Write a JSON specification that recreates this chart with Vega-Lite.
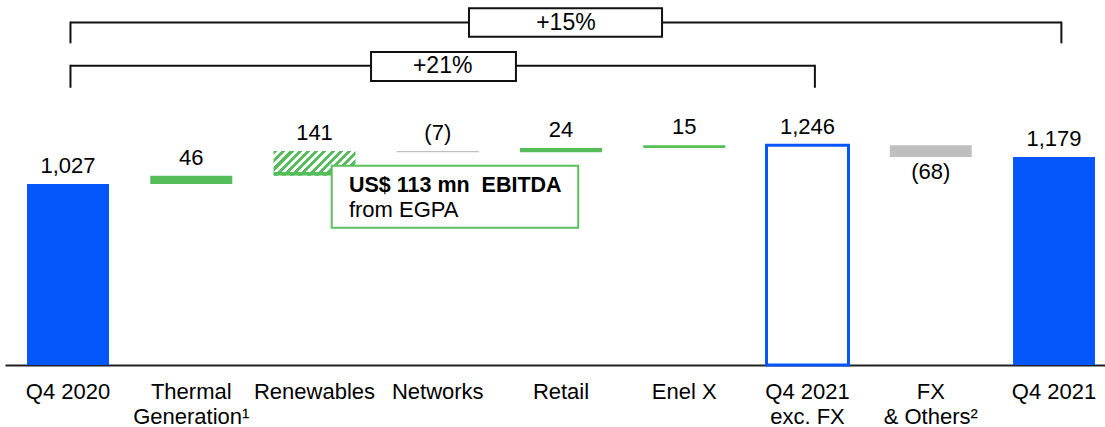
{
  "$schema": "https://vega.github.io/schema/vega-lite/v6.json",
  "width": 1100,
  "height": 365,
  "autosize": {"type": "none"},
  "padding": {"left": 5, "right": 0, "top": 0, "bottom": 62},
  "background": "white",
  "config": {
    "view": {"stroke": null},
    "font": "Liberation Sans",
    "text": {"font": "Liberation Sans", "color": "#000000"}
  },
  "datasets": {
    "bars": [
      {"cat": "Q4 2020", "y0": 0, "y1": 1027, "hi": 1027, "lo": 0, "label": "1,027", "type": "total"},
      {"cat": "Thermal|Generation¹", "y0": 1027, "y1": 1073, "hi": 1073, "lo": 1027, "label": "46", "type": "up"},
      {"cat": "Renewables", "y0": 1073, "y1": 1214, "hi": 1214, "lo": 1073, "label": "141", "type": "hatch"},
      {"cat": "Networks", "y0": 1214, "y1": 1207, "hi": 1214, "lo": 1207, "label": "(7)", "type": "down"},
      {"cat": "Retail", "y0": 1207, "y1": 1231, "hi": 1231, "lo": 1207, "label": "24", "type": "up"},
      {"cat": "Enel X", "y0": 1231, "y1": 1246, "hi": 1246, "lo": 1231, "label": "15", "type": "up"},
      {"cat": "Q4 2021|exc. FX", "y0": 0, "y1": 1246, "hi": 1246, "lo": 0, "label": "1,246", "type": "outline"},
      {"cat": "FX|& Others²", "y0": 1246, "y1": 1179, "hi": 1246, "lo": 1179, "label": "(68)", "type": "down"},
      {"cat": "Q4 2021", "y0": 0, "y1": 1179, "hi": 1179, "lo": 0, "label": "1,179", "type": "total"}
    ],
    "hlines": [
      {"from": "Q4 2020", "to": "Q4 2021", "v": 1942},
      {"from": "Q4 2020", "to": "Q4 2021|exc. FX", "v": 1697}
    ],
    "vleft": [
      {"cat": "Q4 2020", "a": 1942, "b": 1830},
      {"cat": "Q4 2020", "a": 1697, "b": 1578}
    ],
    "vright": [
      {"cat": "Q4 2021", "a": 1942, "b": 1830},
      {"cat": "Q4 2021|exc. FX", "a": 1697, "b": 1578}
    ],
    "box15": [{"from": "Networks", "to": "Enel X", "a": 2023, "b": 1862}],
    "box21": [{"cat": "Networks", "a": 1775, "b": 1611}],
    "growth": [
      {"cat": "Retail", "v": 1942, "text": "+15%"},
      {"cat": "Networks", "v": 1695, "text": "+21%"}
    ],
    "callout": [{"from": "Renewables", "to": "Retail", "a": 1130, "b": 779}],
    "calloutBold": [{"cat": "Renewables", "v": 1017, "text": "US$ 113 mn\u00a0 EBITDA"}],
    "calloutNormal": [{"cat": "Renewables", "v": 879, "text": "from EGPA"}]
  },
  "data": {"name": "bars"},
  "encoding": {
    "x": {
      "field": "cat",
      "type": "nominal",
      "sort": null,
      "scale": {
        "type": "band",
        "domain": ["Q4 2020", "Thermal|Generation¹", "Renewables", "Networks", "Retail", "Enel X", "Q4 2021|exc. FX", "FX|& Others²", "Q4 2021"],
        "paddingInner": 0.335,
        "paddingOuter": 0.13,
        "align": 0.6875
      },
      "axis": {
        "title": null,
        "labelExpr": "split(datum.label, '|')",
        "labelAngle": 0,
        "labelAlign": "center",
        "labelBaseline": "top",
        "labelFont": "Liberation Sans",
        "labelFontSize": 22,
        "labelColor": "#000000",
        "labelLineHeight": 25,
        "labelPadding": 16,
        "labelLimit": 0,
        "ticks": false,
        "tickSize": 0,
        "domainColor": "#222222",
        "domainWidth": 2,
        "grid": false
      }
    }
  },
  "layer": [
    {
      "transform": [{"filter": "datum.type == 'total' || datum.type == 'up' || datum.type == 'down'"}],
      "mark": {"type": "bar"},
      "encoding": {
        "y": {"field": "y0", "type": "quantitative", "scale": {"domain": [0, 2070], "nice": false, "zero": true}, "axis": null},
        "y2": {"field": "y1"},
        "color": {"field": "type", "type": "nominal", "scale": {"domain": ["total", "up", "down"], "range": ["#0556FA", "#55BD5A", "#BFBFBF"]}, "legend": null}
      }
    },
    {
      "transform": [{"filter": "datum.type == 'outline'"}],
      "mark": {"type": "bar", "fill": "#FFFFFF", "stroke": "#0556FA", "strokeWidth": 3},
      "encoding": {
        "y": {"field": "y0", "type": "quantitative"},
        "y2": {"field": "y1"}
      }
    },
    {
      "transform": [{"filter": "datum.type == 'hatch'"}],
      "mark": {
        "type": "bar",
        "fill": {
          "gradient": "linear",
          "x1": 0, "y1": 0, "x2": 1.194, "y2": 0.3625,
          "stops": [
            {"offset": 0, "color": "#55BD5A"}, {"offset": 0.0385, "color": "#55BD5A"}, {"offset": 0.0385, "color": "#FFFFFF"}, {"offset": 0.0769, "color": "#FFFFFF"},
            {"offset": 0.0769, "color": "#55BD5A"}, {"offset": 0.1154, "color": "#55BD5A"}, {"offset": 0.1154, "color": "#FFFFFF"}, {"offset": 0.1538, "color": "#FFFFFF"},
            {"offset": 0.1538, "color": "#55BD5A"}, {"offset": 0.1923, "color": "#55BD5A"}, {"offset": 0.1923, "color": "#FFFFFF"}, {"offset": 0.2308, "color": "#FFFFFF"},
            {"offset": 0.2308, "color": "#55BD5A"}, {"offset": 0.2692, "color": "#55BD5A"}, {"offset": 0.2692, "color": "#FFFFFF"}, {"offset": 0.3077, "color": "#FFFFFF"},
            {"offset": 0.3077, "color": "#55BD5A"}, {"offset": 0.3462, "color": "#55BD5A"}, {"offset": 0.3462, "color": "#FFFFFF"}, {"offset": 0.3846, "color": "#FFFFFF"},
            {"offset": 0.3846, "color": "#55BD5A"}, {"offset": 0.4231, "color": "#55BD5A"}, {"offset": 0.4231, "color": "#FFFFFF"}, {"offset": 0.4615, "color": "#FFFFFF"},
            {"offset": 0.4615, "color": "#55BD5A"}, {"offset": 0.5, "color": "#55BD5A"}, {"offset": 0.5, "color": "#FFFFFF"}, {"offset": 0.5385, "color": "#FFFFFF"},
            {"offset": 0.5385, "color": "#55BD5A"}, {"offset": 0.5769, "color": "#55BD5A"}, {"offset": 0.5769, "color": "#FFFFFF"}, {"offset": 0.6154, "color": "#FFFFFF"},
            {"offset": 0.6154, "color": "#55BD5A"}, {"offset": 0.6538, "color": "#55BD5A"}, {"offset": 0.6538, "color": "#FFFFFF"}, {"offset": 0.6923, "color": "#FFFFFF"},
            {"offset": 0.6923, "color": "#55BD5A"}, {"offset": 0.7308, "color": "#55BD5A"}, {"offset": 0.7308, "color": "#FFFFFF"}, {"offset": 0.7692, "color": "#FFFFFF"},
            {"offset": 0.7692, "color": "#55BD5A"}, {"offset": 0.8077, "color": "#55BD5A"}, {"offset": 0.8077, "color": "#FFFFFF"}, {"offset": 0.8462, "color": "#FFFFFF"},
            {"offset": 0.8462, "color": "#55BD5A"}, {"offset": 0.8846, "color": "#55BD5A"}, {"offset": 0.8846, "color": "#FFFFFF"}, {"offset": 0.9231, "color": "#FFFFFF"},
            {"offset": 0.9231, "color": "#55BD5A"}, {"offset": 0.9615, "color": "#55BD5A"}, {"offset": 0.9615, "color": "#FFFFFF"}, {"offset": 1, "color": "#FFFFFF"}
          ]
        }
      },
      "encoding": {
        "y": {"field": "y0", "type": "quantitative"},
        "y2": {"field": "y1"}
      }
    },
    {
      "transform": [{"filter": "datum.type == 'hatch'"}],
      "mark": {"type": "tick", "color": "#55BD5A", "thickness": 3.5, "size": 82, "yOffset": -2, "opacity": 1},
      "encoding": {
        "y": {"field": "lo", "type": "quantitative"}
      }
    },
    {
      "transform": [{"filter": "datum.label != '(68)'"}],
      "mark": {"type": "text", "fontSize": 22, "baseline": "alphabetic", "align": "center", "dy": -11},
      "encoding": {
        "y": {"field": "hi", "type": "quantitative"},
        "text": {"field": "label"}
      }
    },
    {
      "transform": [{"filter": "datum.label == '(68)'"}],
      "mark": {"type": "text", "fontSize": 22, "baseline": "top", "align": "center", "dy": 5},
      "encoding": {
        "y": {"field": "lo", "type": "quantitative"},
        "text": {"field": "label"}
      }
    },
    {
      "data": {"name": "hlines"},
      "mark": {"type": "rule", "color": "#111111", "strokeWidth": 2},
      "encoding": {
        "x": {"field": "from", "type": "nominal", "bandPosition": 0.53},
        "x2": {"field": "to", "bandPosition": 0.59},
        "y": {"field": "v", "type": "quantitative"}
      }
    },
    {
      "data": {"name": "vleft"},
      "mark": {"type": "rule", "color": "#111111", "strokeWidth": 2, "strokeCap": "square"},
      "encoding": {
        "x": {"field": "cat", "type": "nominal", "bandPosition": 0.53},
        "y": {"field": "a", "type": "quantitative"},
        "y2": {"field": "b"}
      }
    },
    {
      "data": {"name": "vright"},
      "mark": {"type": "rule", "color": "#111111", "strokeWidth": 2, "strokeCap": "square"},
      "encoding": {
        "x": {"field": "cat", "type": "nominal", "bandPosition": 0.59},
        "y": {"field": "a", "type": "quantitative"},
        "y2": {"field": "b"}
      }
    },
    {
      "data": {"name": "box15"},
      "mark": {"type": "rect", "fill": "#FFFFFF", "stroke": "#111111", "strokeWidth": 2},
      "encoding": {
        "x": {"field": "from", "type": "nominal", "bandPosition": 0.881},
        "x2": {"field": "to", "bandPosition": 0.229},
        "y": {"field": "a", "type": "quantitative"},
        "y2": {"field": "b"}
      }
    },
    {
      "data": {"name": "box21"},
      "mark": {"type": "rect", "fill": "#FFFFFF", "stroke": "#111111", "strokeWidth": 2},
      "encoding": {
        "x": {"field": "cat", "type": "nominal", "bandPosition": -0.314},
        "x2": {"field": "cat", "bandPosition": 1.454},
        "y": {"field": "a", "type": "quantitative"},
        "y2": {"field": "b"}
      }
    },
    {
      "data": {"name": "growth"},
      "mark": {"type": "text", "fontSize": 23, "baseline": "middle", "align": "center"},
      "encoding": {
        "x": {"field": "cat", "type": "nominal", "bandPosition": 0.56},
        "y": {"field": "v", "type": "quantitative"},
        "text": {"field": "text"}
      }
    },
    {
      "data": {"name": "callout"},
      "mark": {"type": "rect", "fill": "#FFFFFF", "stroke": "#5DBE60", "strokeWidth": 2},
      "encoding": {
        "x": {"field": "from", "type": "nominal", "bandPosition": 0.71},
        "x2": {"field": "to", "bandPosition": 0.71},
        "y": {"field": "a", "type": "quantitative"},
        "y2": {"field": "b"}
      }
    },
    {
      "data": {"name": "calloutBold"},
      "mark": {"type": "text", "fontSize": 21.5, "fontWeight": "bold", "baseline": "middle", "align": "left"},
      "encoding": {
        "x": {"field": "cat", "type": "nominal", "bandPosition": 0.92},
        "y": {"field": "v", "type": "quantitative"},
        "text": {"field": "text"}
      }
    },
    {
      "data": {"name": "calloutNormal"},
      "mark": {"type": "text", "fontSize": 22, "baseline": "middle", "align": "left"},
      "encoding": {
        "x": {"field": "cat", "type": "nominal", "bandPosition": 0.92},
        "y": {"field": "v", "type": "quantitative"},
        "text": {"field": "text"}
      }
    }
  ]
}
